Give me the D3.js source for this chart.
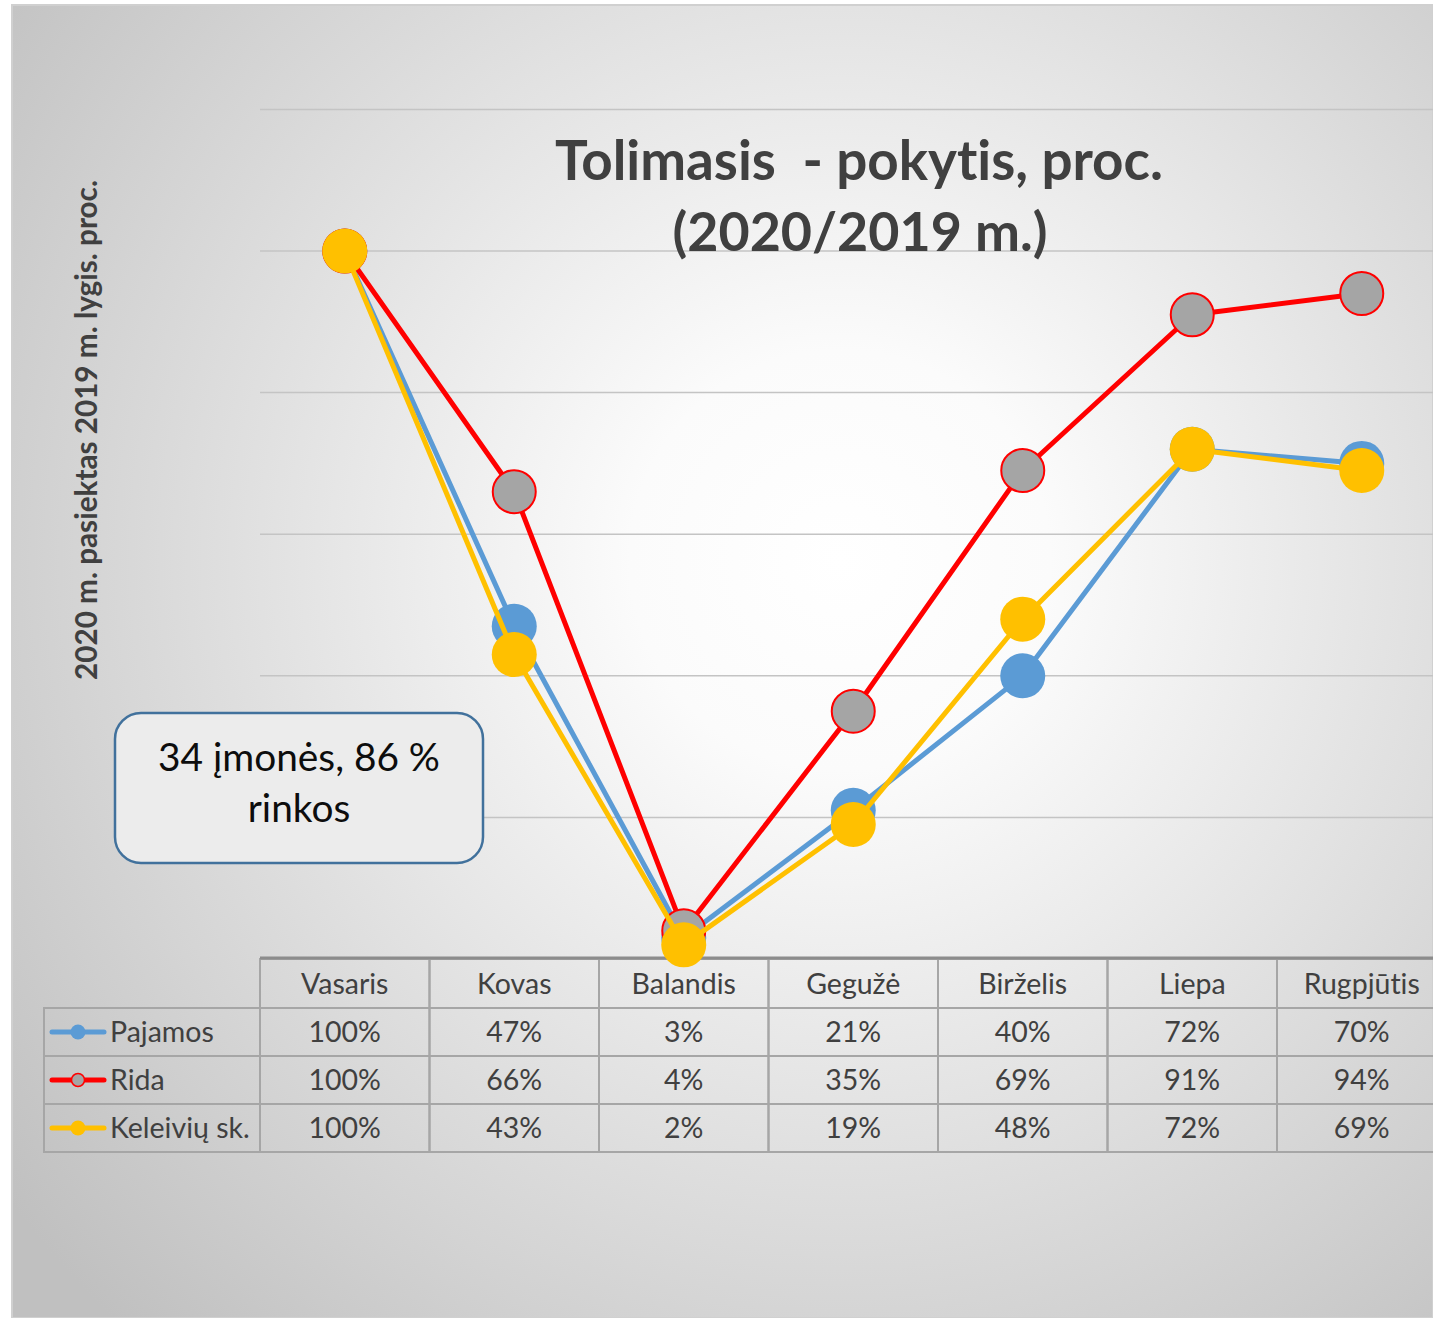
<!DOCTYPE html>
<html>
<head>
<meta charset="utf-8">
<script src="https://cdn.jsdelivr.net/npm/d3@7"></script>
<style>
  html, body { margin: 0; padding: 0; background: #fff; }
  svg { display: block; }
  text { font-variant-ligatures: none; white-space: pre; }
</style>
</head>
<body>
<div id="chart"></div>
<script>
// chart data
const months = ["Vasaris", "Kovas", "Balandis", "Gegužė", "Birželis", "Liepa", "Rugpjūtis"];
const pajamos = [1.00, 0.47, 0.03, 0.21, 0.40, 0.72, 0.70];
const rida = [1.00, 0.66, 0.04, 0.35, 0.69, 0.91, 0.94];
const keleiviai = [1.00, 0.43, 0.02, 0.19, 0.48, 0.72, 0.69];
const seriesNames = ["Pajamos", "Rida", "Keleivių sk."];
const yTicks = [0, 0.2, 0.4, 0.6, 0.8, 1.0, 1.2];

const series = [
  { name: seriesNames[0], values: pajamos, color: "#5b9bd5", fill: "#5b9bd5", stroke: "none" },
  { name: seriesNames[1], values: rida, color: "#ff0000", fill: "#a5a5a5", stroke: "#ff0000" },
  { name: seriesNames[2], values: keleiviai, color: "#ffc000", fill: "#ffc000", stroke: "none" }
];

const width = 1433, height = 1318;
const font = "Lato, 'Open Sans', sans-serif";

const svg = d3.select("#chart").append("svg")
  .attr("width", width)
  .attr("height", height);

// shrink/grow a text node so it spans roughly the width seen in the picture
function fitWidth(sel, target) {
  const node = sel.node();
  const fs = parseFloat(sel.attr("font-size"));
  const w = node.getComputedTextLength();
  if (w > 0) sel.attr("font-size", (fs * target / w).toFixed(2));
}

const defs = svg.append("defs");
const grad = defs.append("radialGradient")
  .attr("id", "bg")
  .attr("gradientUnits", "userSpaceOnUse")
  .attr("cx", 840).attr("cy", 560).attr("r", 1050);
grad.append("stop").attr("offset", "0").attr("stop-color", "#ffffff");
grad.append("stop").attr("offset", "0.2").attr("stop-color", "#fbfbfb");
grad.append("stop").attr("offset", "1").attr("stop-color", "#c0c0c0");

// background
svg.append("rect")
  .attr("x", 12).attr("y", 5)
  .attr("width", width - 12).attr("height", height - 5)
  .attr("fill", "url(#bg)")
  .attr("stroke", "#d0d0d0")
  .attr("stroke-width", 2);

const x = d3.scaleBand().domain(months).range([260, 260 + 7 * 169.5]);
const y = d3.scaleLinear().domain([0, 1.2]).range([959, 109.4]);

// gridlines
svg.append("g")
  .selectAll("line")
  .data(yTicks.slice(1))
  .enter()
  .append("line")
  .attr("x1", 260).attr("x2", width)
  .attr("y1", d => y(d)).attr("y2", d => y(d))
  .attr("stroke", "#c4c4c4")
  .attr("stroke-width", 1.5);

// title
const t1 = svg.append("text")
  .attr("x", 859).attr("y", 180)
  .attr("text-anchor", "middle")
  .attr("font-family", font)
  .attr("font-weight", "bold")
  .attr("font-size", 48)
  .attr("fill", "#404040")
  .text("Tolimasis  - pokytis, proc.");
fitWidth(t1, 608);
const t2 = svg.append("text")
  .attr("x", 860).attr("y", 251)
  .attr("text-anchor", "middle")
  .attr("font-family", font)
  .attr("font-weight", "bold")
  .attr("font-size", 48)
  .attr("fill", "#404040")
  .text("(2020/2019 m.)");
fitWidth(t2, 375);

// y axis title
const yt = svg.append("text")
  .attr("transform", "translate(97,430) rotate(-90)")
  .attr("text-anchor", "middle")
  .attr("font-family", font)
  .attr("font-weight", "bold")
  .attr("font-size", 24)
  .attr("fill", "#404040")
  .text("2020 m. pasiektas 2019 m. lygis. proc.");
fitWidth(yt, 500);

// table
const rowTop = [1008, 1056, 1104];
const rowH = 48;
const cellFont = 28.5;
const table = svg.append("g");
const tableStroke = "#a6a6a6";

// header cells
table.selectAll(".hcell")
  .data(months)
  .enter()
  .append("rect")
  .attr("x", d => x(d)).attr("y", 959)
  .attr("width", x.bandwidth()).attr("height", 49)
  .attr("fill", "none")
  .attr("stroke", tableStroke).attr("stroke-width", 2);

table.selectAll(".htext")
  .data(months)
  .enter()
  .append("text")
  .attr("x", d => x(d) + x.bandwidth() / 2)
  .attr("y", 994)
  .attr("text-anchor", "middle")
  .attr("font-family", font)
  .attr("font-size", cellFont)
  .attr("fill", "#404040")
  .text(d => d);

series.forEach((s, i) => {
  const top = rowTop[i];
  table.append("rect")
    .attr("x", 44).attr("y", top)
    .attr("width", 216).attr("height", rowH)
    .attr("fill", "none")
    .attr("stroke", tableStroke).attr("stroke-width", 2);
  table.selectAll(".c" + i)
    .data(months)
    .enter()
    .append("rect")
    .attr("x", d => x(d)).attr("y", top)
    .attr("width", x.bandwidth()).attr("height", rowH)
    .attr("fill", "none")
    .attr("stroke", tableStroke).attr("stroke-width", 2);
  table.selectAll(".t" + i)
    .data(s.values)
    .enter()
    .append("text")
    .attr("x", (d, j) => x(months[j]) + x.bandwidth() / 2)
    .attr("y", top + 34)
    .attr("text-anchor", "middle")
    .attr("font-family", font)
    .attr("font-size", cellFont)
    .attr("fill", "#404040")
    .text(d => Math.round(d * 100) + "%");
  // legend key
  const cy = top + 24;
  table.append("line")
    .attr("x1", 52).attr("x2", 104)
    .attr("y1", cy).attr("y2", cy)
    .attr("stroke", s.color).attr("stroke-width", 5)
    .attr("stroke-linecap", "round");
  table.append("circle")
    .attr("cx", 78).attr("cy", cy).attr("r", s.stroke === "none" ? 7.5 : 6.5)
    .attr("fill", s.fill)
    .attr("stroke", s.stroke).attr("stroke-width", 1.5);
  table.append("text")
    .attr("x", 110).attr("y", top + 34)
    .attr("font-family", font)
    .attr("font-size", cellFont)
    .attr("fill", "#404040")
    .text(s.name);
});

// axis line
svg.append("line")
  .attr("x1", 260).attr("x2", width)
  .attr("y1", 958).attr("y2", 958)
  .attr("stroke", "#8c8c8c").attr("stroke-width", 3);

// callout
svg.append("rect")
  .attr("x", 115).attr("y", 713)
  .attr("width", 368).attr("height", 150)
  .attr("rx", 26).attr("ry", 26)
  .attr("fill", "#ececec")
  .attr("stroke", "#41719c")
  .attr("stroke-width", 2.5);
const c1 = svg.append("text")
  .attr("x", 299).attr("y", 771)
  .attr("text-anchor", "middle")
  .attr("font-family", font)
  .attr("font-size", 36)
  .attr("fill", "#0d0d0d")
  .text("34 įmonės, 86 %");
fitWidth(c1, 282);
svg.append("text")
  .attr("x", 299).attr("y", 822)
  .attr("text-anchor", "middle")
  .attr("font-family", font)
  .attr("font-size", c1.attr("font-size"))
  .attr("fill", "#0d0d0d")
  .text("rinkos");

// lines and markers
const line = d3.line()
  .x((d, i) => x(months[i]) + x.bandwidth() / 2)
  .y(d => y(d));

series.forEach(s => {
  const g = svg.append("g");
  g.append("path")
    .datum(s.values)
    .attr("d", line)
    .attr("fill", "none")
    .attr("stroke", s.color)
    .attr("stroke-width", 5)
    .attr("stroke-linejoin", "round");
  g.selectAll("circle")
    .data(s.values)
    .enter()
    .append("circle")
    .attr("cx", (d, i) => x(months[i]) + x.bandwidth() / 2)
    .attr("cy", d => y(d))
    .attr("r", s.stroke === "none" ? 22.5 : 21.5)
    .attr("fill", s.fill)
    .attr("stroke", s.stroke)
    .attr("stroke-width", 2);
});
</script>
</body>
</html>
